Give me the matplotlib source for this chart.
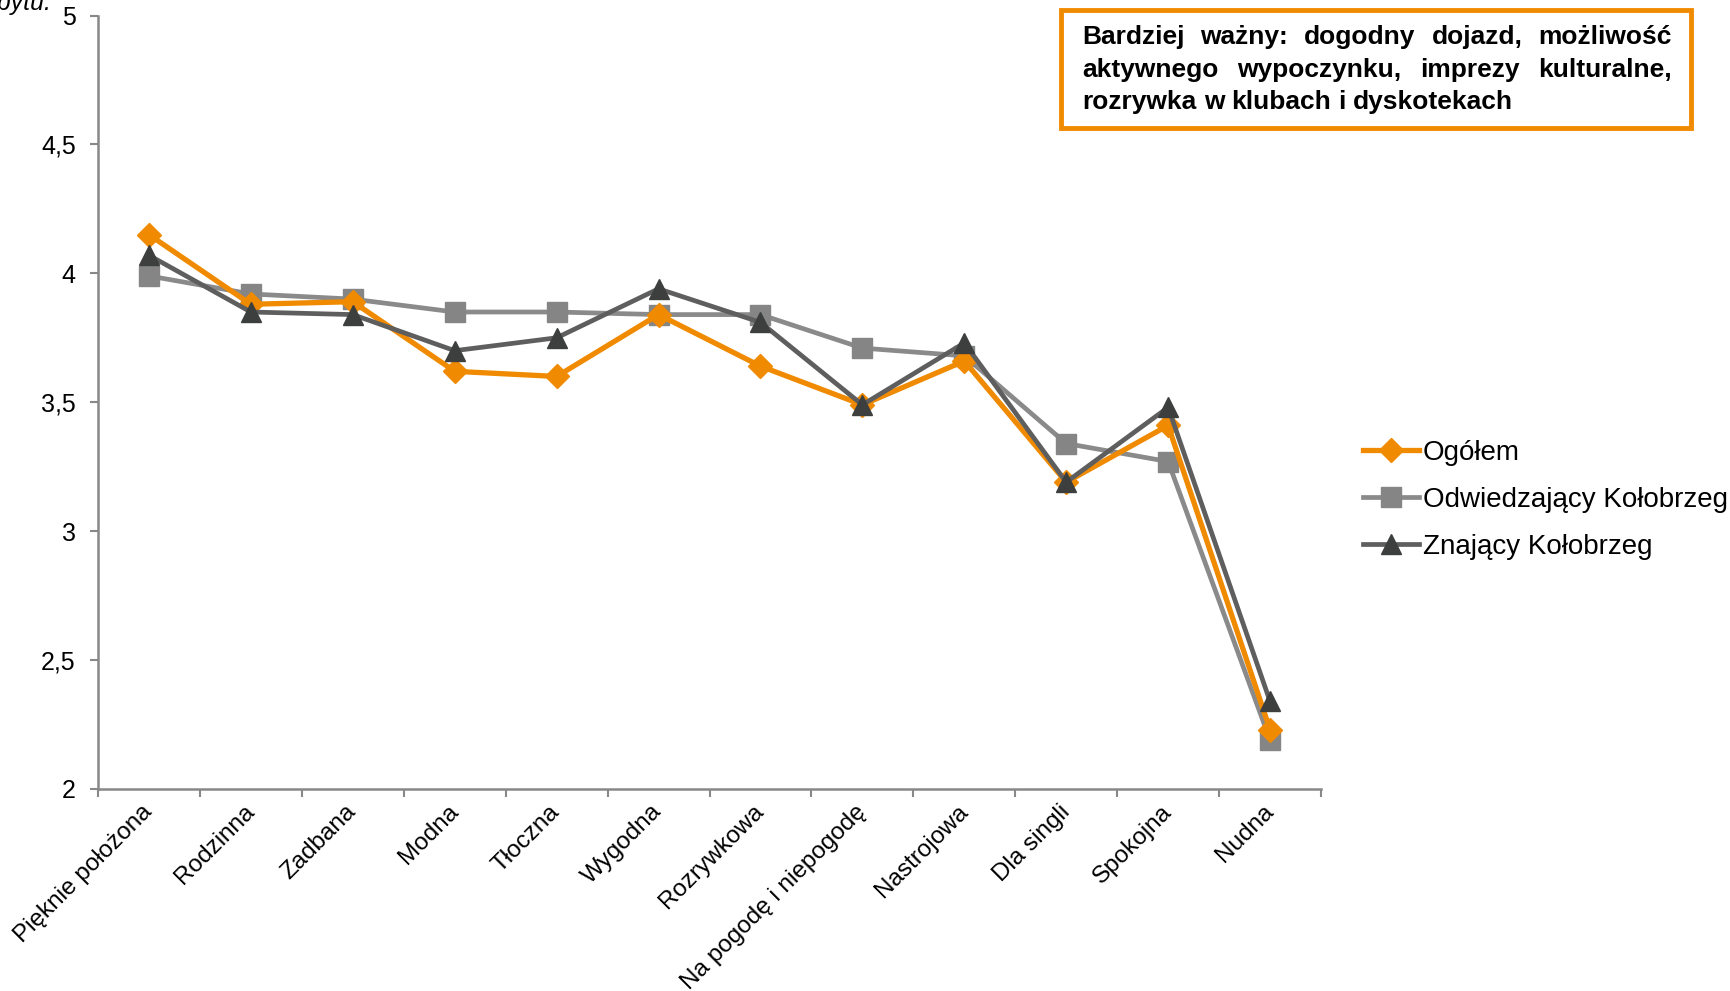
import matplotlib
matplotlib.use("Agg")
import matplotlib.pyplot as plt
from matplotlib import font_manager
from matplotlib.patches import Rectangle
from matplotlib.transforms import ScaledTranslation

categories = ["Pięknie położona", "Rodzinna", "Zadbana", "Modna", "Tłoczna", "Wygodna",
              "Rozrywkowa", "Na pogodę i niepogodę", "Nastrojowa", "Dla singli", "Spokojna", "Nudna"]
ogolem = [4.15, 3.88, 3.89, 3.62, 3.60, 3.84, 3.64, 3.49, 3.66, 3.19, 3.41, 2.23]
odwiedzajacy = [3.99, 3.92, 3.90, 3.85, 3.85, 3.84, 3.84, 3.71, 3.68, 3.34, 3.27, 2.19]
znajacy = [4.07, 3.85, 3.84, 3.70, 3.75, 3.94, 3.81, 3.49, 3.73, 3.19, 3.48, 2.34]
series_names = ["Ogółem", "Odwiedzający Kołobrzeg", "Znający Kołobrzeg"]
yticks = [2, 2.5, 3, 3.5, 4, 4.5, 5]
ytick_labels = ["2", "2,5", "3", "3,5", "4", "4,5", "5"]
box_lines = [["Bardziej", "ważny:", "dogodny", "dojazd,", "możliwość"],
             ["aktywnego", "wypoczynku,", "imprezy", "kulturalne,"],
             ["rozrywka", "w", "klubach", "i", "dyskotekach"]]

avail = {f.name for f in font_manager.fontManager.ttflist}
base_font = "Liberation Sans" if "Liberation Sans" in avail else "DejaVu Sans"
narrow_font = "Liberation Sans Narrow" if "Liberation Sans Narrow" in avail else base_font
plt.rcParams["font.family"] = [base_font, "DejaVu Sans"]

W, H = 1730, 991
fig = plt.figure(figsize=(W / 100, H / 100), dpi=100)
ax = fig.add_axes([98 / W, 1 - 789 / H, (1321 - 98) / W, (789 - 15.5) / H])

x = list(range(len(categories)))
ORANGE = "#F08A00"
ax.plot(x, ogolem, color=ORANGE, lw=3.8, marker="D", ms=12, mfc=ORANGE, mec=ORANGE,
        label=series_names[0], zorder=3)
ax.plot(x, odwiedzajacy, color="#8A8A8A", lw=3.4, marker="s", ms=14, mfc="#858585",
        mec="#858585", label=series_names[1], zorder=2)
ax.plot(x, znajacy, color="#5E5E5E", lw=3.4, marker="^", ms=15, mfc="#3D3F3F",
        mec="#3D3F3F", label=series_names[2], zorder=4)

ax.set_xlim(-0.5, len(categories) - 0.5)
ax.set_ylim(2, 5)
ax.set_yticks(yticks)
ax.set_yticklabels(ytick_labels, fontsize=18)
ax.set_xticks(x)
ax.set_xticklabels(categories, rotation=45, ha="right", va="center", rotation_mode="anchor",
                   fontsize=17.5)
offset = ScaledTranslation(4.5 / 72, 0, fig.dpi_scale_trans)
for lab in ax.get_xticklabels():
    lab.set_transform(lab.get_transform() + offset)
ax.set_xticks([i - 0.5 for i in range(len(categories) + 1)], minor=True)
ax.tick_params(axis="x", which="major", length=0, pad=14)
ax.tick_params(axis="x", which="minor", length=6, color="#888888", width=1.5)
ax.tick_params(axis="y", length=6, color="#888888", width=1.5, pad=10)
for s in ["top", "right"]:
    ax.spines[s].set_visible(False)
for s in ["left", "bottom"]:
    ax.spines[s].set_color("#888888")
    ax.spines[s].set_linewidth(1.8)

fig.legend(loc="center left", bbox_to_anchor=(1338 / W, 1 - 500 / H), frameon=False,
           fontsize=20, handlelength=2.0, handletextpad=0.15, labelspacing=0.75)

fig.text(52 / W, 1 - 10 / H, "pobytu:", ha="right", va="baseline", style="italic",
         fontsize=18)

# annotation box
fig.patches.append(Rectangle((1061 / W, 1 - 128 / H), (1691 - 1061) / W, (128 - 10) / H,
                             transform=fig.transFigure, fill=False, edgecolor=ORANGE,
                             lw=3.5, zorder=5))
renderer = fig.canvas.get_renderer()
left_px, right_px = 1082, 1672
baselines = [44, 77, 109]
FS = 19
for li, (words, by) in enumerate(zip(box_lines, baselines)):
    texts = [fig.text(0, 1 - by / H, w, fontsize=FS, fontweight="bold", family=narrow_font,
                      ha="left", va="baseline") for w in words]
    widths = [t.get_window_extent(renderer).width for t in texts]
    if li < len(box_lines) - 1:
        gap = (right_px - left_px - sum(widths)) / (len(words) - 1)
    else:
        sp = fig.text(0, 0, "a a", fontsize=FS, fontweight="bold", family=narrow_font)
        sa = fig.text(0, 0, "aa", fontsize=FS, fontweight="bold", family=narrow_font)
        gap = sp.get_window_extent(renderer).width - sa.get_window_extent(renderer).width
        sp.remove(); sa.remove()
    cur = left_px
    for t, w in zip(texts, widths):
        t.set_x(cur / W)
        cur += w + gap

fig.savefig("out.png", dpi=100)
